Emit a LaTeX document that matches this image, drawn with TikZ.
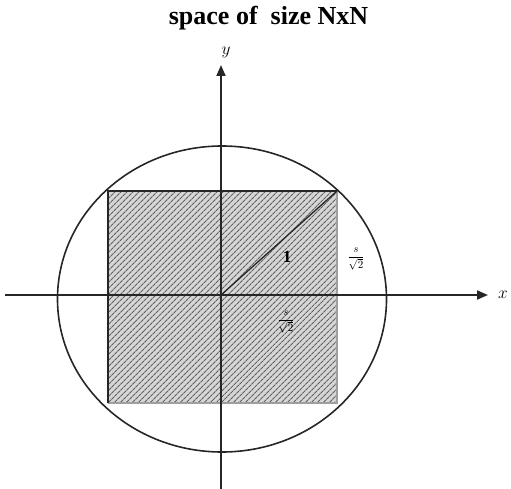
\documentclass[tikz,border=0pt]{standalone}
\usepackage{fontspec}
\setmainfont{Liberation Serif}
\usetikzlibrary{patterns.meta,arrows.meta}
\definecolor{hatchfill}{gray}{0.84}
\definecolor{hatchline}{gray}{0.38}
\tikzset{
  axisline/.style={line width=1.8pt, draw=black!85, -{Triangle[length=11pt,width=9pt]}},
  hatchbox/.style={fill=hatchfill, postaction={pattern={Lines[angle=45,distance=4pt,line width=1.2pt]}, pattern color=hatchline}},
  edge/.style={line width=1.6pt, draw=black!85},
  softedge/.style={line width=2.4pt, draw=gray!75},
  lbl/.style={font=\fontsize{17}{18}\selectfont, inner sep=0pt},
  fraclbl/.style={font=\fontsize{11}{12}\selectfont, inner sep=0pt},
}

\begin{document}
\begin{tikzpicture}[x=1pt, y=-1pt]
    \useasboundingbox (0,0) rectangle (511,489);
    % square of size s x s
    \fill[hatchbox] (108,191) rectangle (337,403);
    \draw[softedge] (337,191) -- (337,403) -- (108,403);
    \draw[edge] (108,403) -- (108,191) -- (337,191);
    % circle
    \draw[edge] (222,299) ellipse [x radius=164.5pt, y radius=153pt];
    % axes
    \coordinate (O) at (221,295);
    \coordinate (xl) at (5,295);
    \coordinate (xr) at (488,295);
    \coordinate (yb) at (221,489);
    \coordinate (yt) at (221,65);
    \coordinate (TR) at (337,191);
    \draw[axisline] (xl) -- (xr);
    \draw[axisline] (yb) -- (yt);
    \draw[edge, line width=1.3pt] (O) -- (TR);
    % labels
    \node[font=\bfseries\fontsize{26}{28}\selectfont, anchor=base] (title) at (268.5,25) {space of\ \ size NxN};
    \node[lbl] (ylabel) at (226,52) {$y$};
    \node[lbl] (xlabel) at (503,295) {$x$};
    \node[lbl] (diaglabel) at (287,257) {\textbf{1}};
    \node[fraclbl] (sidelabel) at (356,259) {$\displaystyle\frac{s}{\sqrt{2}}$};
    \node[fraclbl] (halflabel) at (286,322) {$\displaystyle\frac{s}{\sqrt{2}}$};
  \end{tikzpicture}
\end{document}
